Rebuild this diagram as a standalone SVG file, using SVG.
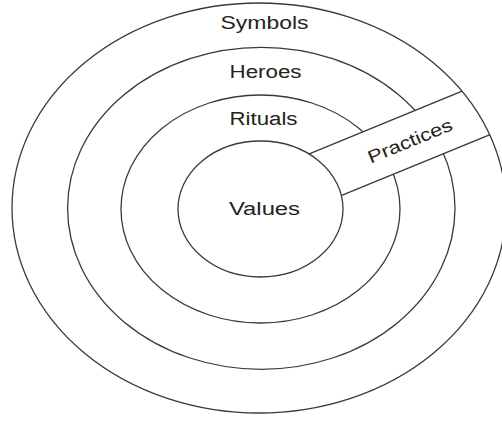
<svg xmlns="http://www.w3.org/2000/svg" width="502" height="421" viewBox="0 0 502 421">
<style>
.ring{fill:none;stroke:#3a3a3a;stroke-width:1.3}
.fillw{fill:#ffffff;stroke:#3a3a3a;stroke-width:1.3}
.line{stroke:#3a3a3a;stroke-width:1.3;fill:none}
.lbl{font-family:"Liberation Sans",Arial,sans-serif;font-size:18px;fill:#222;text-anchor:middle}
</style>
<defs>
<clipPath id="outerClip"><ellipse cx="259" cy="208" rx="247" ry="205"/></clipPath>
</defs>
<rect width="502" height="421" fill="#ffffff"/>
<g id="heroes">
<ellipse class="ring" cx="261.3" cy="208.3" rx="193.7" ry="161"/>
<text class="lbl" x="265.5" y="77.5" textLength="72" lengthAdjust="spacingAndGlyphs">Heroes</text>
</g>
<g id="rituals">
<ellipse class="ring" cx="260.5" cy="209" rx="139.5" ry="114"/>
<text class="lbl" x="263.5" y="125" textLength="68" lengthAdjust="spacingAndGlyphs">Rituals</text>
</g>
<g id="practices" clip-path="url(#outerClip)">
<polygon points="280,165.8 530,63.3 530,118.2 280,220.7" fill="#ffffff"/>
<line class="line" x1="280" y1="165.8" x2="530" y2="63.3"/>
<line class="line" x1="280" y1="220.7" x2="530" y2="118.2"/>
<text class="lbl" x="410" y="147" textLength="90" lengthAdjust="spacingAndGlyphs" transform="rotate(-22.3 410 141)">Practices</text>
</g>
<g id="values">
<ellipse class="fillw" cx="260.5" cy="209" rx="82.5" ry="68"/>
<text class="lbl" x="264.5" y="214.5" textLength="71" lengthAdjust="spacingAndGlyphs">Values</text>
</g>
<g id="symbols">
<ellipse class="ring" cx="259" cy="208" rx="247" ry="205"/>
<text class="lbl" x="264.5" y="28.5" textLength="88" lengthAdjust="spacingAndGlyphs">Symbols</text>
</g>
<g id="connectors"/>
</svg>
